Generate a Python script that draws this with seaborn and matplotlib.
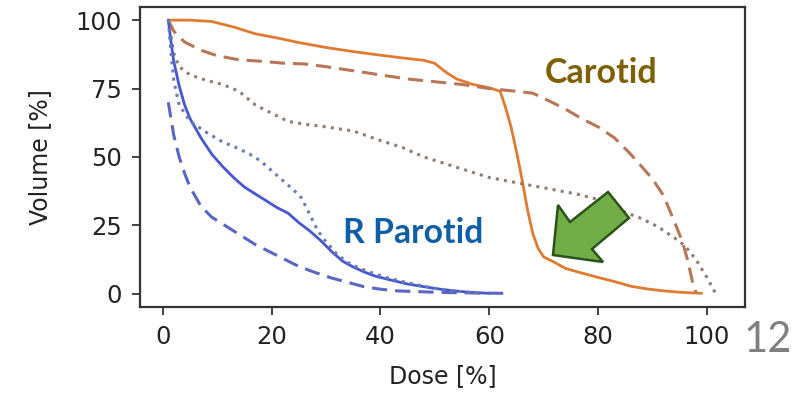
import matplotlib
matplotlib.use("Agg")
import matplotlib.pyplot as plt
from matplotlib.patches import Polygon
import seaborn as sns
import pandas as pd

# Dose-volume histogram curves (dose in % of prescription, volume in %)
carotid_solid_dose = [1, 5, 9, 13, 17, 21, 25, 30, 35, 40, 44, 48, 50, 52, 54, 57, 60, 62,
                      63, 64, 65, 66, 67, 68, 69, 70, 72, 74, 77, 80, 83, 86, 89, 92, 95, 99]
carotid_solid_vol = [100, 100, 99.5, 97.5, 95, 93.5, 91.8, 90, 88.5, 87.2, 86.2, 85.3, 84.2, 81, 78.5, 76.5, 75.3, 74,
                     68, 61, 52, 42, 31, 22, 16.5, 13.5, 11.5, 9.3, 7.6, 6, 4.5, 2.8, 1.8, 1.1, 0.6, 0.2]

carotid_dash_dose = [1, 2, 4, 7, 10, 14, 18, 22, 26, 30, 35, 40, 45, 50, 55, 60, 65, 68,
                     71, 74, 77, 80, 83, 86, 88, 90, 92, 94, 95.5, 96.5, 97.5, 98]
carotid_dash_vol = [100, 96, 92, 89, 87, 85.5, 85, 84.3, 84, 83, 81.5, 80, 78.5, 77.5, 76.5, 75, 74, 73.3,
                    70.5, 67.5, 64, 61, 57, 51, 46.5, 42, 36, 26.5, 19, 12, 3, 0.5]

carotid_dot_dose = [1, 2, 3, 5, 8, 11, 14, 17, 20, 23, 26, 30, 35, 40, 44, 48, 52, 56, 60,
                    64, 68, 72, 76, 80, 84, 88, 91, 94, 96, 98, 100, 101.5]
carotid_dot_vol = [100, 88, 83, 80, 78, 76.5, 74, 69, 66, 63, 62, 61, 59.5, 56, 53.5, 50, 47.5, 45, 42.5,
                   41, 39.5, 38, 36.5, 34.5, 30.5, 27.5, 24.5, 20.5, 17.5, 12.5, 6, 0.5]

parotid_solid_dose = [1, 1.5, 2, 3, 4, 5, 7, 9, 11, 13, 15, 17, 19, 21, 23, 25, 27, 29, 31,
                      33, 35, 37, 39, 42, 45, 48, 51, 54, 57, 60]
parotid_solid_vol = [100, 92, 85, 76, 69, 64, 57, 51, 46.5, 42.5, 39, 36.5, 34, 31.5, 29.5, 26, 23, 19.5, 15.5,
                     12, 9.8, 8, 6.5, 5, 3.6, 2.6, 1.7, 1, 0.5, 0.2]

parotid_dash_dose = [1, 2, 3, 4, 5, 7, 9, 11, 13, 15, 17, 19, 22, 25, 28, 31, 34, 37, 40,
                     43, 47, 52, 58, 63]
parotid_dash_vol = [70, 58, 50, 44, 39, 32, 28, 25.5, 23, 20.5, 18, 16, 13, 10, 7.8, 5.8, 4.2, 2.6, 1.7,
                    1.1, 0.8, 0.5, 0.3, 0.2]

parotid_dot_dose = [1, 1.5, 2, 3, 5, 8, 11, 14, 16, 18, 20, 22, 24, 25.5, 27, 28.5, 30, 32,
                    34, 36, 38, 41, 44, 47, 50, 53, 56, 58]
parotid_dot_vol = [100, 88, 78, 69, 63, 59, 55.5, 53, 51, 48.5, 45, 41.5, 38, 35, 29, 23, 19, 14.5,
                   11.5, 9.5, 8, 6, 4.5, 3.2, 2, 1.2, 0.6, 0.3]

x_ticks = [0, 20, 40, 60, 80, 100]
y_ticks = [0, 25, 50, 75, 100]

curves = [
    ("Carotid", "solid", carotid_solid_dose, carotid_solid_vol),
    ("Carotid", "dashed", carotid_dash_dose, carotid_dash_vol),
    ("Carotid", "dotted", carotid_dot_dose, carotid_dot_vol),
    ("R Parotid", "solid", parotid_solid_dose, parotid_solid_vol),
    ("R Parotid", "dashed", parotid_dash_dose, parotid_dash_vol),
    ("R Parotid", "dotted", parotid_dot_dose, parotid_dot_vol),
]

frames = []
for organ, kind, dose, vol in curves:
    frames.append(pd.DataFrame({"Dose": dose, "Volume": vol, "organ": organ, "kind": kind}))
df = pd.concat(frames, ignore_index=True)

colors = {
    ("Carotid", "solid"): "#e07a30",
    ("Carotid", "dashed"): "#b97656",
    ("Carotid", "dotted"): "#8f7d72",
    ("R Parotid", "solid"): "#4657d2",
    ("R Parotid", "dashed"): "#5a66c4",
    ("R Parotid", "dotted"): "#6c7ab8",
}
styles = {"solid": "-", "dashed": (0, (5, 2.6)), "dotted": (0, (1, 1.7))}
widths = {"solid": 2.0, "dashed": 2.2, "dotted": 2.2}

sns.set_style("ticks")
plt.rcParams["font.family"] = ["DejaVu Sans"]

W, H = 806, 396
fig = plt.figure(figsize=(W / 100, H / 100), dpi=100)
fig.patch.set_facecolor("white")
ax = fig.add_axes([140 / W, 89 / H, 605 / W, 300 / H])

for (organ, kind), sub in df.groupby(["organ", "kind"], sort=False):
    sns.lineplot(data=sub, x="Dose", y="Volume", ax=ax, estimator=None, sort=False,
                 color=colors[(organ, kind)], linestyle=styles[kind],
                 linewidth=widths[kind], legend=False)

ax.set_xlim(-4.2, 107)
ax.set_ylim(-4.8, 104.8)
ax.set_xticks(x_ticks)
ax.set_yticks(y_ticks)
ax.tick_params(axis="both", labelsize=17.5, length=6, width=1.3, pad=7, color="#333333",
               labelcolor="#222222")
for side in ["left", "right", "top", "bottom"]:
    ax.spines[side].set_visible(True)
    ax.spines[side].set_linewidth(1.6)
    ax.spines[side].set_color("#333333")

ax.set_xlabel("Dose [%]", fontsize=17, color="#222222")
ax.set_ylabel("Volume [%]", fontsize=17, color="#222222")
ax.xaxis.set_label_coords(0.50, -0.19)
ax.yaxis.set_label_coords(-0.145, 0.5)


def fitted_label(text, left_px, right_px, baseline_px, color, size=22, weight="bold"):
    """Place a label on the figure so that it spans left_px..right_px (pixels)."""
    t = fig.text(left_px / W, 1 - baseline_px / H, text, ha="left", va="baseline",
                 fontsize=size, fontweight=weight, color=color,
                 family=["Lato", "DejaVu Sans"], zorder=6)
    renderer = fig.canvas.get_renderer()
    width = t.get_window_extent(renderer).width
    t.set_fontsize(size * (right_px - left_px) / width)
    return t


# Organ labels
fitted_label("Carotid", 545, 657, 83, "#7f6000")
fitted_label("R Parotid", 343, 483, 243, "#0f5ea8")

# Green block arrow pointing at the carotid shoulder
arrow_pts = [(0.6826, 0.1733), (0.6909, 0.34), (0.7107, 0.2833), (0.7736, 0.3833),
             (0.8083, 0.2967), (0.7471, 0.1933), (0.7653, 0.15)]
ax.add_patch(Polygon(arrow_pts, closed=True, transform=ax.transAxes, facecolor="#70ad47",
                     edgecolor="#2b5219", linewidth=1.8, zorder=5, clip_on=False))

# Slide number
fig.text(0.953, 0.141, "12", ha="center", va="center", fontsize=30, color="#808080",
         family=["Lato", "DejaVu Sans"])

fig.savefig("out.png", dpi=100, facecolor="white")
